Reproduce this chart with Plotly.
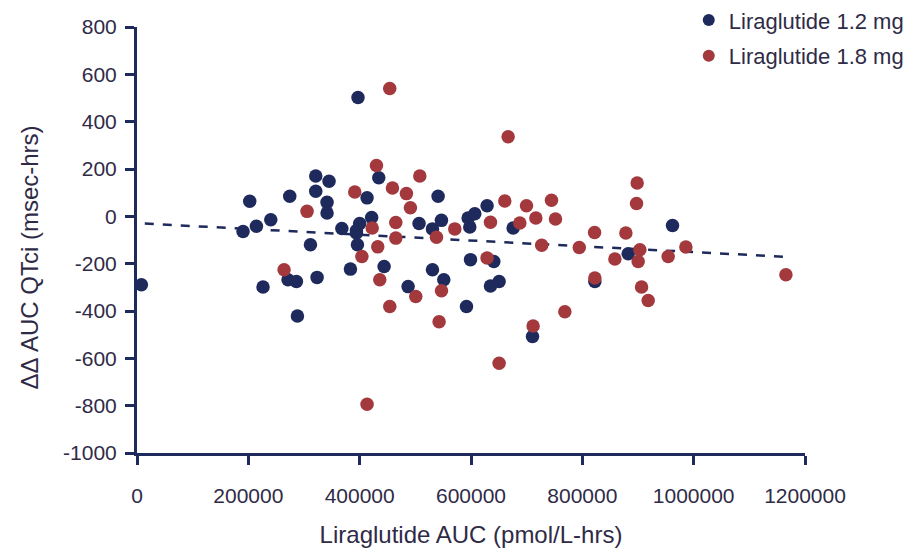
import plotly.graph_objects as go

# Liraglutide 1.2 mg: AUC (pmol/L-hrs) vs change in AUC QTci (msec-hrs)
auc_12 = [7900, 190500, 202500, 214500, 226400, 240300, 271300, 274400, 286400, 288200,
          311600, 321100, 321100, 323500, 341400, 341400, 345000, 368000, 383400, 394200,
          394200, 397000, 400000, 396000, 413300, 421500, 434300, 443900, 487000, 506700,
          530800, 530800, 540900, 546900, 551100, 591900, 594800, 606800, 597800, 599100,
          628900, 635000, 641000, 650500, 675700, 710500, 822500, 882400, 962000]
qtc_12 = [-289, -64, 64, -42, -299, -14, -268, 85, -275, -421,
          -120, 170, 106, -258, 59, 14, 148, -51, -223, -70,
          -60, 502, -30, -120, 78, -5, 163, -212, -297, -30,
          -53, -226, 85, -17, -268, -381, -7, 11, -45, -183,
          45, -294, -191, -275, -49, -508, -275, -158, -39]

# Liraglutide 1.8 mg
auc_18 = [264200, 305500, 391200, 404000, 413300, 422500, 430200, 432500, 436100, 454000,
          454100, 458900, 464900, 464900, 484000, 491200, 500800, 508000, 538000, 542700,
          547000, 570900, 628900, 635000, 650500, 660700, 666700, 687700, 699700, 711600,
          716500, 727000, 744600, 751800, 768600, 794500, 822000, 822500, 858500, 878200,
          897400, 898500, 900300, 903400, 906400, 918300, 954200, 986000, 1165700]
qtc_18 = [-226, 21, 103, -170, -794, -49, 215, -129, -268, 540,
          -381, 120, -26, -92, 96, 36, -339, 170, -88, -445,
          -314, -53, -176, -25, -621, 65, 336, -28, 45, -463,
          -7, -122, 68, -11, -403, -132, -68, -261, -180, -70,
          54, 141, -191, -141, -299, -356, -170, -130, -247]

# Linear fit across both doses
fit_intercept = -29
fit_slope = -0.000122
fit_x = [14000, 1170000]
fit_y = [fit_intercept + fit_slope * v for v in fit_x]

x_ticks = [0, 200000, 400000, 600000, 800000, 1000000, 1200000]
y_ticks = [800, 600, 400, 200, 0, -200, -400, -600, -800, -1000]

NAVY = "#1f2a5c"
RED = "#a3393d"
TEXT = "#2f2b47"
FONT = "Liberation Sans, Arial, sans-serif"

fig = go.Figure()
fig.add_trace(go.Scatter(
    x=fit_x, y=fit_y, mode="lines",
    line=dict(color=NAVY, width=2.5, dash="dash"),
    showlegend=False, hoverinfo="skip", cliponaxis=False,
))
fig.add_trace(go.Scatter(
    x=auc_12, y=qtc_12, mode="markers", name="Liraglutide 1.2 mg",
    marker=dict(color=NAVY, size=13.5, line=dict(width=0)),
    cliponaxis=False, legendgroup="a",
))
fig.add_trace(go.Scatter(
    x=auc_18, y=qtc_18, mode="markers", name="Liraglutide 1.8 mg",
    marker=dict(color=RED, size=13.5, line=dict(width=0)),
    cliponaxis=False, legendgroup="b",
))

fig.update_layout(
    width=916, height=552,
    margin=dict(l=137, r=111, t=27, b=99, autoexpand=False),
    paper_bgcolor="white", plot_bgcolor="white",
    font=dict(family=FONT, color=TEXT, size=21),
    legend=dict(
        x=0.826, y=1.065, xanchor="left", yanchor="top",
        font=dict(size=22, color=TEXT),
        bgcolor="rgba(0,0,0,0)",
        traceorder="grouped", tracegroupgap=4,
        itemsizing="constant",
    ),
    xaxis=dict(
        range=[0, 1200000], tickvals=x_ticks,
        ticktext=[str(v) for v in x_ticks],
        showgrid=False, zeroline=False,
        showline=True, linecolor=NAVY, linewidth=3,
        ticks="outside", ticklen=9, tickwidth=3, tickcolor=NAVY,
        ticklabelstandoff=13,
        tickfont=dict(size=21, color=TEXT),
        title=dict(text="Liraglutide AUC (pmol/L-hrs)", font=dict(size=24, color=TEXT), standoff=20),
        automargin=False,
    ),
    yaxis=dict(
        range=[-1000, 800], tickvals=y_ticks,
        ticktext=[str(v) for v in y_ticks],
        showgrid=False, zeroline=False,
        showline=True, linecolor=NAVY, linewidth=3,
        ticks="outside", ticklen=9, tickwidth=3, tickcolor=NAVY,
        ticklabelstandoff=4,
        tickfont=dict(size=21, color=TEXT),
        automargin=False,
    ),
    annotations=[dict(
        text="ΔΔ AUC QTci (msec-hrs)", textangle=-90,
        xref="paper", yref="paper", x=-0.161, y=0.46,
        xanchor="center", yanchor="middle", showarrow=False,
        font=dict(size=24, color=TEXT),
    )],
)

fig.write_html("out.html")
